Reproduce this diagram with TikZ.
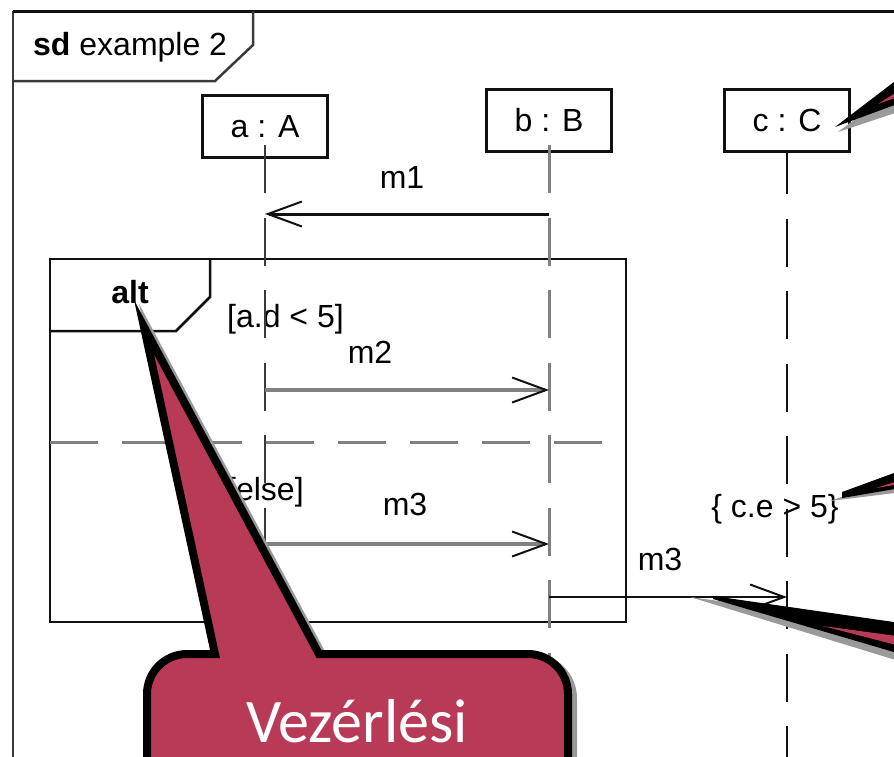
\documentclass[tikz,border=0pt]{standalone}
\usepackage{fontspec}
\setmainfont{Liberation Sans}
\newfontfamily\calloutfont{Carlito}
\usepackage{tikz}
\usetikzlibrary{arrows.meta, calc}
\definecolor{Ink}{HTML}{111111}
\definecolor{Frame}{HTML}{3A3A3A}
\definecolor{Wire}{HTML}{808080}
\definecolor{Callout}{HTML}{B93A56}
\definecolor{Shade}{HTML}{9A9A9A}

\begin{document}
\begin{tikzpicture}[
  x=1pt, y=-1pt,
  font=\fontsize{32}{38}\selectfont,
  txt/.style={inner sep=0pt},
  obj/.style={draw=Ink, line width=2.5pt, fill=white, minimum width=125pt, minimum height=62pt, inner sep=0pt},
  lifeline/.style={line width=2.5pt, dash pattern=on 48pt off 24.5pt},
  msg/.style={line width=3pt, -{Straight Barb[length=34pt, width=25pt, line width=2pt, color=Ink]}},
  bubble/.style={fill=Callout, draw=black, line width=8pt, line join=miter,
    preaction={fill=Shade, draw=Shade, line width=8pt, transform canvas={shift={(5pt,-4pt)}}}},
  fragment/.style={draw=Ink, line width=2.5pt}
]
\useasboundingbox (0,0) rectangle (894,756);
\clip (0,0) rectangle (894,756);

% diagram frame
\draw[Frame, line width=2.5pt] (13,1000) -- (13,11);
\draw[Ink, line width=3pt] (13,11) -- (1000,11);
\draw[Frame, line width=2.5pt] (13,81) -- (215,81) -- (253,45) -- (253,11);
\node[txt, anchor=base west] (title) at (33,55) {\textbf{sd} example 2};

% alt fragment
\draw[fragment] (50,259) rectangle (626,622);
\draw[fragment] (50,331) -- (176,331) -- (210,297) -- (210,259);
\draw[Wire, line width=3pt, dash pattern=on 48pt off 24pt] (50,442) -- (605,442);
\node[txt, anchor=base, font=\fontsize{32}{38}\selectfont\bfseries] (alt) at (130,303) {alt};
\node[txt, anchor=base west] (guard1) at (227,327) {[a.d < 5]};
\node[txt, anchor=base west] (guard2) at (227,500) {[else]};

% objects
\node[obj] (a) at (265,126.5) {a : A};
\node[obj] (b) at (549,120.5) {b : B};
\node[obj] (c) at (787,120.5) {c : C};

% message labels
\node[txt, anchor=base] (m1) at (402,188) {m1};
\node[txt, anchor=base] (m2) at (370,363) {m2};
\node[txt, anchor=base] (m3a) at (405,515) {m3};
\node[txt, anchor=base] (m3b) at (660,570) {m3};
\node[txt, anchor=base] (inv) at (775,517) {\{ c.e > 5\}};

% lifelines
\coordinate (top) at (0,145);
\coordinate (bot) at (0,780);
\draw[lifeline, Frame] (a |- top) -- (a |- bot);
\draw[lifeline, Wire, line width=3pt] (b |- top) -- (b |- bot);
\draw[lifeline, Ink, dash phase=6.5pt] (c.south) -- (c |- bot);

% messages
\coordinate (r1) at (0,214);
\coordinate (r2) at (0,390);
\coordinate (r3) at (0,544);
\coordinate (r4) at (0,597);
\draw[msg, Ink] (b |- r1) -- (a |- r1);
\draw[msg, Wire, line width=3.5pt] (a |- r2) -- (b |- r2);
\draw[msg, Wire, line width=3.5pt] (a |- r3) -- (b |- r3);
\draw[msg, Ink, line width=2.5pt] (b |- r4) -- (c |- r4);

% callout pointers coming in from the right
\fill[Shade] (838,132) -- (1000,10) -- (1000,78) -- cycle;
\fill[black] (835,127) -- (1000,1) -- (1000,66) -- cycle;
\fill[Callout] (878,104) -- (1000,26) -- (1000,60) -- cycle;

\fill[Shade] (830,501) -- (1000,440) -- (1000,480) -- cycle;
\fill[black] (842,492) -- (1000,434.3) -- (1000,471.1) -- (842,498) -- cycle;
\fill[Callout] (876,488) -- (1000,448) -- (1000,468) -- cycle;

\fill[Shade] (690,597) -- (1000,640) -- (1000,692) -- cycle;
\fill[black] (713,596) -- (1000,637.3) -- (1000,683.1) -- (713,599) -- cycle;
\fill[Callout] (823,626) -- (1000,650) -- (1000,672) -- cycle;

% callout on the alt fragment
\path[bubble] (147,800) -- (147,694) .. controls (147,672) and (165,654) .. (187,654)
  -- (215,654) -- (144,327) -- (319,654) -- (528,654)
  .. controls (550,654) and (568,672) .. (568,694) -- (568,800) -- cycle;
\node[txt, anchor=base, text=white, font=\calloutfont\fontsize{62}{70}\selectfont] (note) at (357,742) {Vezérlési};
\end{tikzpicture}
\end{document}
